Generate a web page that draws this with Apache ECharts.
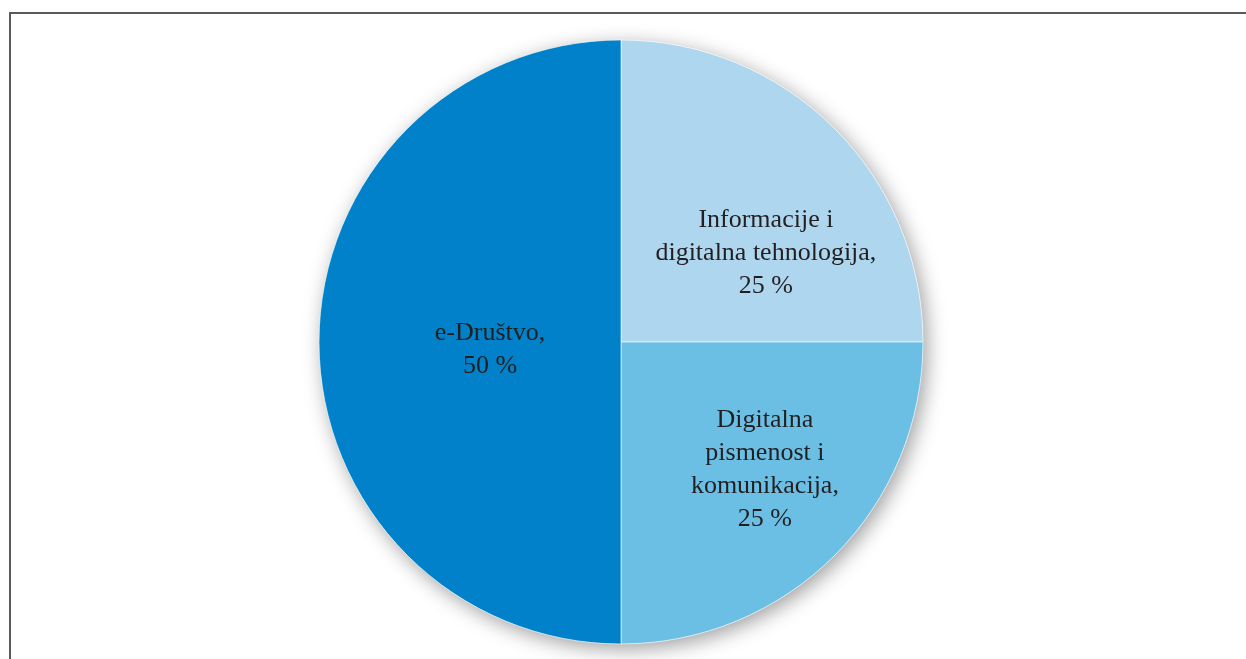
<!DOCTYPE html>
<html>
<head>
<meta charset="utf-8">
<script src="https://cdn.jsdelivr.net/npm/echarts@6/dist/echarts.min.js"></script>
<style>
  html, body { margin: 0; padding: 0; background: #fff; overflow: hidden; }
  #frame { position: absolute; left: 9px; top: 12px; width: 1300px; height: 700px;
           border-top: 2px solid #5a5a5a; border-left: 2px solid #5a5a5a; }
  #main { position: absolute; left: 0; top: 0; width: 1246px; height: 659px; }
</style>
</head>
<body>
<div id="frame"></div>
<div id="main"></div>
<script>
  // podaci
  let names = ['Informacije i\ndigitalna tehnologija', 'Digitalna\npismenost i\nkomunikacija', 'e-Društvo'];
  let values = [25, 25, 50];
  let colors = ['#aed6ee', '#6bbfe5', '#0081c9'];

  // pomaci oznaka od zadane pozicije
  let labelShift = [[36, 20], [35, 19], [23, 8]];

  let myChart = echarts.init(document.getElementById('main'));
  let data = names.map((n, i) => ({ name: n, value: values[i], itemStyle: { color: colors[i] } }));

  let option = {
    animation: false,
    series: [{
      // samo sjena ispod kruga
      type: 'pie',
      center: [621, 342],
      radius: [0, 302],
      silent: true,
      z: 1,
      data: [{ value: 1, name: '' }],
      label: { show: false },
      labelLine: { show: false },
      itemStyle: {
        color: '#ffffff',
        shadowBlur: 20,
        shadowOffsetX: 4,
        shadowOffsetY: 5,
        shadowColor: 'rgba(0,0,0,0.38)'
      }
    }, {
      type: 'pie',
      center: [621, 342],
      radius: [0, 302],
      startAngle: 90,
      clockwise: true,
      z: 2,
      data: data,
      itemStyle: {
        borderColor: 'rgba(255,255,255,0.6)',
        borderWidth: 1
      },
      label: {
        show: true,
        position: 'inside',
        formatter: '{b},\n{c} %',
        fontFamily: 'Liberation Serif',
        fontSize: 26,
        lineHeight: 33,
        color: '#231f20',
        align: 'center'
      },
      labelLine: { show: false },
      labelLayout: function (p) {
        let s = labelShift[p.dataIndex];
        return { dx: s[0], dy: s[1] };
      }
    }]
  };
  myChart.setOption(option);
</script>
</body>
</html>
